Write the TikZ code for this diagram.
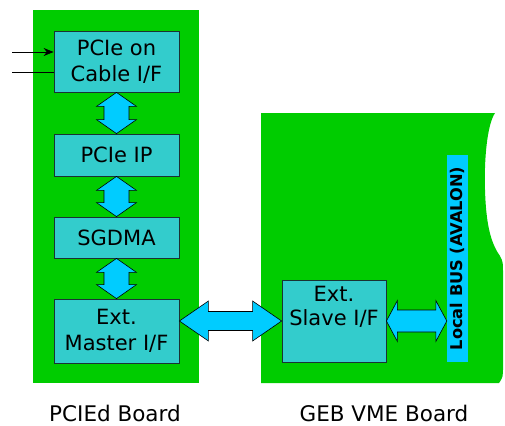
\documentclass[tikz,border=0pt]{standalone}
\usepackage{fontspec}
\setmainfont{DejaVu Sans}
\usetikzlibrary{calc,arrows.meta}
\definecolor{boardgreen}{HTML}{00CC00}
\definecolor{boxcyan}{HTML}{33CCCC}
\definecolor{arrowcyan}{HTML}{00CCFF}
\definecolor{edgedark}{HTML}{1A3333}
\tikzset{
  board/.style={fill=boardgreen, draw=none},
  block/.style={draw=edgedark, line width=0.8pt, fill=boxcyan, inner sep=0pt,
    align=center, font=\fontsize{21}{26}\selectfont},
  fatarrow/.style={draw=black, line width=0.6pt, fill=arrowcyan, line join=miter},
  busbar/.style={fill=arrowcyan, draw=none, inner sep=0pt},
  caption/.style={font=\fontsize{21.5}{24}\selectfont},
  inline/.style={draw=black, line width=0.7pt}
}
% horizontal fat double arrow: left tip, right tip, head length, head half width, shaft half width
\newcommand\hfat[5]{%
  \draw[fatarrow] (#1) -- ++(#3,-#4) -- ++(0,{#4-#5}) -- ($(#2)+(-#3,-#5)$) -- ++(0,{-(#4-#5)})
    -- (#2) -- ++(-#3,#4) -- ++(0,{-(#4-#5)}) -- ($(#1)+(#3,#5)$) -- ++(0,{#4-#5}) -- cycle;}
% vertical fat double arrow: top tip, bottom tip, head length, head half width, shaft half width
\newcommand\vfat[5]{%
  \draw[fatarrow] (#1) -- ++(#4,#3) -- ++({-(#4-#5)},0) -- ($(#2)+(#5,-#3)$) -- ++({#4-#5},0)
    -- (#2) -- ++(-#4,-#3) -- ++({#4-#5},0) -- ($(#1)+(-#5,#3)$) -- ++({-(#4-#5)},0) -- cycle;}
\begin{document}
\begin{tikzpicture}[x=1pt,y=-1pt]
\useasboundingbox (0,0) rectangle (505,425);
% boards
\fill[board] (33,10) rectangle (199,383);
\fill[board] (261,113) -- (495,113)
  .. controls (487,125) and (484,160) .. (485,190)
  .. controls (486,222) and (490,242) .. (500,256)
  .. controls (503,262) .. (503,275) -- (503,366)
  .. controls (503,377) .. (499,383) -- (261,383) -- cycle;
% blocks
\node[block, minimum width=125pt, minimum height=61pt] (cable) at (116.5,61.5) {PCIe on\\Cable I/F};
\node[block, minimum width=125pt, minimum height=42pt] (ip) at (116.5,155) {PCIe IP};
\node[block, minimum width=125pt, minimum height=41pt] (sgdma) at (116.5,237.5) {SGDMA};
\node[block, minimum width=125pt, minimum height=64pt] (master) at (116.5,331) {Ext.\\Master I/F};
\node[block, minimum width=104pt, minimum height=82pt] (slave) at (334,321) {};
\node[align=center, font=\fontsize{21}{24.5}\selectfont, anchor=north, inner sep=0pt] (slavetext) at ($(slave.north)+(0,6)$) {Ext.\\Slave I/F};
\node[busbar, minimum width=21pt, minimum height=207pt] (bus) at (457.5,258.5) {};
\node[rotate=90, font=\bfseries\fontsize{16.2}{18}\selectfont, inner sep=0pt] (bustext) at ($(bus.center)+(0,0)$) {Local BUS (AVALON)};
% input lines
\coordinate (in1) at (12,52);
\coordinate (in2) at (12,72);
\draw[inline, -{Stealth[length=10pt,width=8pt]}] (in1) -- (in1 -| cable.west);
\draw[inline] (in2) -- (in2 -| cable.west);
% vertical fat arrows
\vfat{cable.south}{ip.north}{14}{20}{12.5}
\vfat{ip.south}{sgdma.north}{14}{20}{12.5}
\vfat{sgdma.south}{master.north}{14}{20}{12.5}
% horizontal fat arrows
\coordinate (mr) at (master.east |- slave.west);
\hfat{mr}{slave.west}{29}{20}{9.5}
\coordinate (br) at (bus.west |- slave.east);
\hfat{slave.east}{br}{11}{20.5}{11}
% captions
\node[caption] (lcap) at (115,413) {PCIEd Board};
\node[caption] (rcap) at (384,413) {GEB VME Board};
\end{tikzpicture}
\end{document}
